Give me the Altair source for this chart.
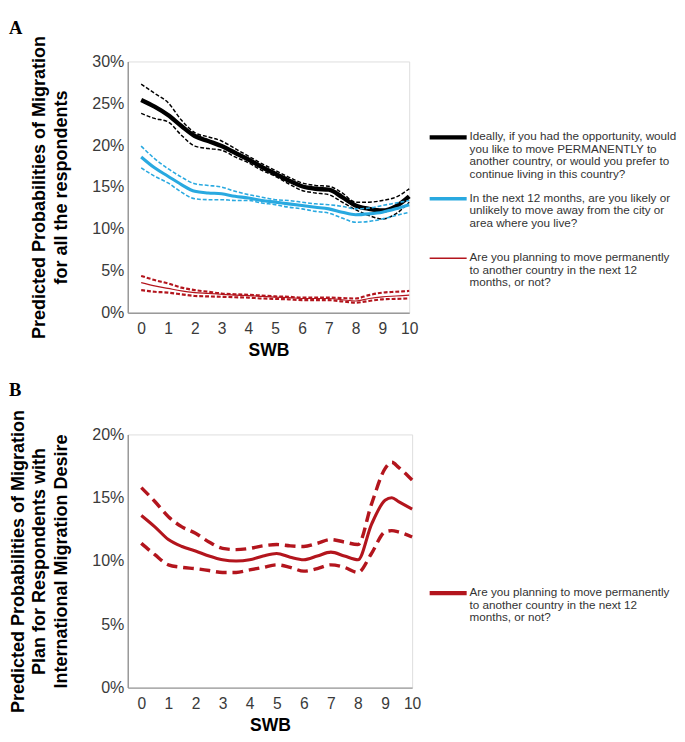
import altair as alt
import pandas as pd

# ---------------- Data ----------------
swb_a = [0, 0.5, 1, 1.5, 2, 2.5, 3, 3.5, 4, 4.5, 5, 5.5, 6, 6.5, 7, 7.5, 8, 8.5, 9, 9.5, 10]

black_mean = [25.4, 24.6, 23.6, 22.3, 21.1, 20.5, 19.9, 19.1, 18.3, 17.4, 16.6, 15.8, 15.1, 14.8, 14.7, 13.8, 12.8, 12.4, 12.2, 12.7, 13.9]
black_up   = [27.3, 26.2, 25.1, 23.0, 21.5, 21.0, 20.5, 19.6, 18.7, 17.8, 17.0, 16.2, 15.5, 15.2, 15.1, 14.3, 13.2, 13.2, 13.4, 13.8, 14.8]
black_lo   = [23.8, 23.2, 22.8, 21.2, 19.9, 19.6, 19.4, 18.6, 17.9, 17.0, 16.3, 15.4, 14.6, 14.3, 14.1, 13.2, 12.3, 11.6, 11.2, 11.8, 13.2]

blue_mean = [18.6, 17.3, 16.3, 15.3, 14.5, 14.3, 14.2, 13.9, 13.7, 13.4, 13.2, 13.0, 12.8, 12.6, 12.4, 12.0, 11.7, 11.8, 12.0, 12.4, 12.9]
blue_up   = [19.9, 18.4, 17.2, 16.2, 15.4, 15.2, 15.0, 14.5, 14.1, 13.8, 13.5, 13.4, 13.2, 13.0, 12.9, 12.7, 12.4, 12.5, 12.8, 13.1, 13.4]
blue_lo   = [17.3, 16.3, 15.5, 14.4, 13.6, 13.5, 13.5, 13.4, 13.4, 13.1, 12.9, 12.6, 12.4, 12.1, 11.9, 11.3, 10.8, 10.9, 11.2, 11.6, 12.0]

red_mean = [3.6, 3.2, 2.9, 2.6, 2.4, 2.3, 2.2, 2.1, 2.05, 1.95, 1.85, 1.8, 1.7, 1.7, 1.7, 1.55, 1.4, 1.7, 1.9, 2.0, 2.1]
red_up   = [4.4, 3.9, 3.5, 3.0, 2.7, 2.5, 2.3, 2.2, 2.15, 2.05, 1.95, 1.9, 1.8, 1.8, 1.8, 1.75, 1.7, 2.1, 2.4, 2.5, 2.6]
red_lo   = [2.7, 2.5, 2.4, 2.2, 2.0, 1.95, 1.9, 1.85, 1.8, 1.7, 1.65, 1.6, 1.5, 1.5, 1.5, 1.35, 1.2, 1.4, 1.6, 1.65, 1.7]

swb_b = [0, 0.5, 1, 1.5, 2, 2.5, 3, 3.5, 4, 4.5, 5, 5.5, 6, 6.5, 7, 7.5, 8, 8.5, 9, 9.25, 9.5, 10]
plan_mean = [13.6, 12.7, 11.7, 11.15, 10.8, 10.4, 10.1, 10.0, 10.1, 10.4, 10.6, 10.3, 10.1, 10.4, 10.7, 10.4, 10.1, 12.9, 14.8, 15.0, 14.7, 14.1]
plan_up   = [15.8, 14.7, 13.5, 12.7, 12.2, 11.5, 11.0, 10.9, 11.0, 11.2, 11.3, 11.2, 11.15, 11.4, 11.7, 11.5, 11.3, 14.5, 17.3, 17.8, 17.4, 16.4]
plan_lo   = [11.4, 10.5, 9.7, 9.5, 9.4, 9.25, 9.1, 9.1, 9.3, 9.5, 9.7, 9.5, 9.2, 9.4, 9.7, 9.5, 9.1, 10.6, 12.3, 12.4, 12.3, 11.9]

label_black = "Ideally, if you had the opportunity, would\nyou like to move PERMANENTLY to\nanother country, or would you prefer to\ncontinue living in this country?"
label_blue = "In the next 12 months, are you likely or\nunlikely to move away from the city or\narea where you live?"
label_red = "Are you planning to move permanently\nto another country in the next 12\nmonths, or not?"

x_ticks = list(range(0, 11))
ya_ticks = [0, 5, 10, 15, 20, 25, 30]
yb_ticks = [0, 5, 10, 15, 20]

BLACK = "#000000"
BLUE = "#29a9e0"
RED = "#b3151d"
FONT = "Liberation Sans"

def frame(xs, ys):
    return pd.DataFrame({"swb": xs, "p": ys})

def xenc():
    return alt.X("swb:Q", scale=alt.Scale(domain=[-0.5, 10], nice=False, zero=False),
                 axis=alt.Axis(values=x_ticks, title="SWB", grid=False, ticks=False,
                               labelFontSize=16, labelColor="#3a3a3a", labelFont=FONT,
                               labelPadding=8, titleFontSize=18, titleFont=FONT,
                               titleFontWeight="bold", titleColor="#000000", titlePadding=6,
                               domainColor="#9a9a9a", domainWidth=1.5, labelFlush=False))

def yenc(ticks, dom, title, tpad):
    return alt.Y("p:Q", scale=alt.Scale(domain=dom, nice=False),
                 axis=alt.Axis(values=ticks, labelExpr="datum.value + '%'", title=title,
                               grid=False, ticks=False, labelFontSize=16.5, labelColor="#3a3a3a",
                               labelFont=FONT, labelPadding=4, titleFontSize=18.5, titleFont=FONT,
                               titleFontWeight="bold", titleColor="#000000", titlePadding=tpad,
                               titleLineHeight=22,
                               domainColor="#9a9a9a", domainWidth=1.5))

def line(df, color, width, dash=None, ticks=ya_ticks, dom=[0, 30], title=None, tpad=22):
    kw = dict(color=color, strokeWidth=width, interpolate="monotone", clip=False)
    if dash:
        kw["strokeDash"] = dash
    return alt.Chart(df).mark_line(**kw).encode(x=xenc(), y=yenc(ticks, dom, title, tpad))

def legend_item(label, color, width, ypix):
    d = pd.DataFrame({"t": [label]})
    rule = alt.Chart(d).mark_rule(color=color, strokeWidth=width).encode(
        x=alt.value(310), x2=alt.value(348), y=alt.value(ypix))
    txt = alt.Chart(d).mark_text(align="left", baseline="top", lineBreak="\n", font=FONT,
                                 fontSize=12, lineHeight=12.8, color="#333333").encode(
        x=alt.value(351), y=alt.value(ypix - 6), text="t:N")
    return rule + txt

title_a = ["Predicted Probabilities of Migration", "for all the respondents"]
title_b = ["Predicted Probabilities of Migration", "Plan for Respondents with", "International Migration Desire"]

dash_a = [4, 2]
chart_a = alt.layer(
    line(frame(swb_a, black_up), BLACK, 1.5, dash_a, title=title_a),
    line(frame(swb_a, black_lo), BLACK, 1.5, dash_a, title=title_a),
    line(frame(swb_a, black_mean), BLACK, 4.5, title=title_a),
    line(frame(swb_a, blue_up), BLUE, 1.6, dash_a, title=title_a),
    line(frame(swb_a, blue_lo), BLUE, 1.6, dash_a, title=title_a),
    line(frame(swb_a, blue_mean), BLUE, 3.2, title=title_a),
    line(frame(swb_a, red_up), RED, 2.2, dash_a, title=title_a),
    line(frame(swb_a, red_lo), RED, 2.2, dash_a, title=title_a),
    line(frame(swb_a, red_mean), RED, 1.2, title=title_a),
    legend_item(label_black, BLACK, 4.5, 78),
    legend_item(label_blue, BLUE, 3.5, 141),
    legend_item(label_red, RED, 1.5, 202),
).properties(
    width=289, height=258,
    title=alt.Title("A", anchor="start", frame="bounds", font="Liberation Serif",
                    fontSize=19, fontWeight="bold", color="#000000", offset=-2, dx=-22),
)

dash_b = [11, 6]
kb = dict(ticks=yb_ticks, dom=[0, 20], title=title_b)
chart_b = alt.layer(
    line(frame(swb_b, plan_up), RED, 3.5, dash_b, **kb),
    line(frame(swb_b, plan_lo), RED, 3.5, dash_b, **kb),
    line(frame(swb_b, plan_mean), RED, 3.2, **kb),
    legend_item(label_red, RED, 4.5, 163),
).properties(
    width=292, height=260,
    title=alt.Title("B", anchor="start", frame="bounds", font="Liberation Serif",
                    fontSize=19, fontWeight="bold", color="#000000", offset=10, dx=0),
)

chart = alt.vconcat(chart_a, chart_b, spacing=20).properties(
    padding={"left": 0, "top": 0, "right": 0, "bottom": 0}
).configure_view(stroke=None).configure(background="white")

chart.save("out.html", embed_options={"renderer": "svg", "actions": False})
